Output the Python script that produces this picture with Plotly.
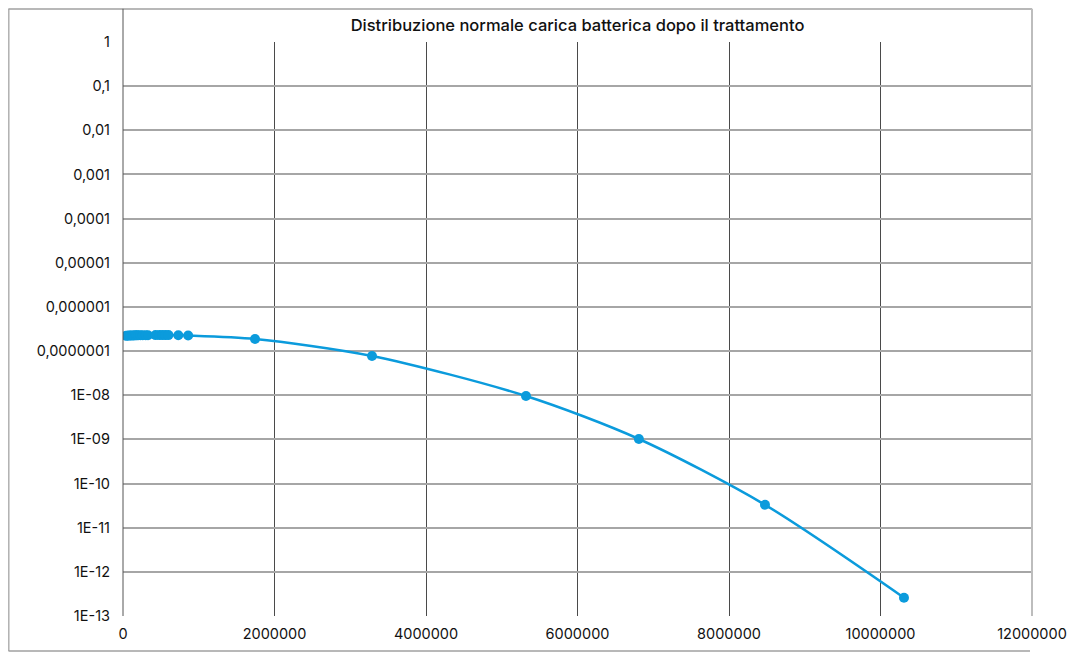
import plotly.graph_objects as go

# Data
x_vals = [40000, 60000, 80000, 100000, 120000, 140000, 160000, 180000, 200000,
          230000, 260000, 300000, 330000, 430000, 480000, 520000, 560000, 600000,
          730000, 860000, 1743000, 3287000, 5320000, 6810000, 8475000, 10310000]
y_vals = [2.22e-7, 2.23e-7, 2.24e-7, 2.25e-7, 2.26e-7, 2.26e-7, 2.27e-7, 2.27e-7, 2.28e-7,
          2.28e-7, 2.29e-7, 2.29e-7, 2.29e-7, 2.3e-7, 2.3e-7, 2.3e-7, 2.3e-7, 2.3e-7,
          2.28e-7, 2.25e-7, 1.88e-7, 7.76e-8, 9.6e-9, 1.02e-9, 3.3e-11, 2.6e-13]

title_text = "Distribuzione normale carica batterica dopo il trattamento"
y_tickvals = [1, 1e-1, 1e-2, 1e-3, 1e-4, 1e-5, 1e-6, 1e-7, 1e-8, 1e-9, 1e-10, 1e-11, 1e-12, 1e-13]
y_ticktext = ["1", "0,1", "0,01", "0,001", "0,0001", "0,00001", "0,000001", "0,0000001",
              "1E-08", "1E-09", "1E-10", "1E-11", "1E-12", "1E-13"]
x_tickvals = [0, 2000000, 4000000, 6000000, 8000000, 10000000, 12000000]
x_ticktext = ["0", "2000000", "4000000", "6000000", "8000000", "10000000", "12000000"]

color = "#0B9BDC"
font_family = "Inter, Liberation Sans, sans-serif"

fig = go.Figure()
fig.add_trace(go.Scatter(
    x=x_vals, y=y_vals, mode="lines+markers",
    line=dict(color=color, width=2.5, shape="spline", smoothing=0.8),
    marker=dict(color=color, size=10),
    showlegend=False,
))

# page body has an 8px margin, so the figure is offset by 8px
OFF = 8
W, H = 1082 - 2 * OFF, 660 - 2 * OFF
L = 123 - OFF
T = 41.7 - OFF
pw = 909
ph = 574.3
R = W - L - pw
B = H - T - ph

def px(xp):
    return (xp - OFF - L) / pw

def py(yp):
    return (H - B - (yp - OFF)) / ph

shapes = [
    # outer chart border
    dict(type="line", xref="paper", yref="paper", x0=px(8.8), x1=px(8.8), y0=py(8.5), y1=py(651),
         line=dict(color="#b0b0b0", width=1.5)),
    dict(type="line", xref="paper", yref="paper", x0=px(8.5), x1=px(1032), y0=py(8.8), y1=py(8.8),
         line=dict(color="#a0a0a0", width=1.5)),
    dict(type="line", xref="paper", yref="paper", x0=px(8.5), x1=px(1030), y0=py(651), y1=py(651),
         line=dict(color="#a0a0a0", width=1.5)),
    dict(type="line", xref="paper", yref="paper", x0=1, x1=1, y0=0, y1=py(8.5),
         line=dict(color="#bdbdbd", width=2)),
    # y axis line extending to top
    dict(type="line", xref="paper", yref="paper", x0=0, x1=0, y0=0, y1=py(8.5),
         line=dict(color="#555555", width=1)),
]

fig.update_layout(
    width=W, height=H,
    margin=dict(l=L, r=R, t=T, b=B, autoexpand=False),
    paper_bgcolor="white", plot_bgcolor="white",
    font=dict(family=font_family, size=14.5, color="#111111"),
    title=dict(text=title_text, x=0.5, xref="paper", xanchor="center",
               y=1 - (25 - OFF) / H, yanchor="middle",
               font=dict(size=16.5, color="#111111", weight=500)),
    shapes=shapes,
)
fig.update_xaxes(
    range=[0, 12000000], tickvals=x_tickvals, ticktext=x_ticktext,
    showgrid=True, gridcolor="#4a4a4a", gridwidth=1,
    zeroline=False, showline=False, ticks="", ticklabelstandoff=7,
)
fig.update_yaxes(
    type="log", range=[-13, 0], tickvals=y_tickvals, ticktext=y_ticktext,
    showgrid=True, gridcolor="#a6a6a6", gridwidth=1.5,
    zeroline=False, showline=False, ticks="", ticklabelstandoff=12,
)

fig.write_html("out.html")
